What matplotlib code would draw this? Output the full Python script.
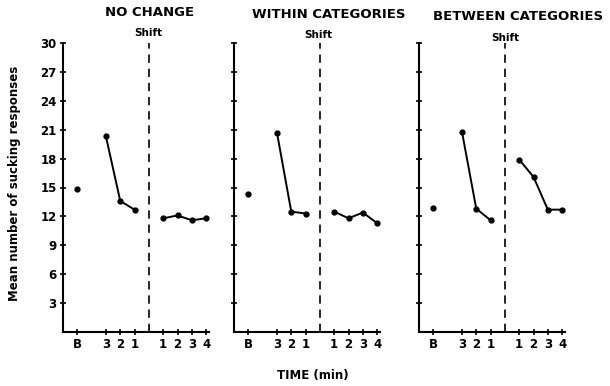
import matplotlib
matplotlib.use("Agg")
import matplotlib.pyplot as plt

# x positions: baseline, pre-shift minutes 3-2-1, post-shift minutes 1-4
x_pos = [0, 2, 3, 4, 6, 7, 8, 9]
x_labels = ["B", "3", "2", "1", "1", "2", "3", "4"]
shift_x = 5

titles = ["NO CHANGE", "WITHIN CATEGORIES", "BETWEEN CATEGORIES"]

baseline = [14.8, 14.3, 12.9]
pre_shift = [
    [20.3, 13.6, 12.7],
    [20.7, 12.5, 12.3],
    [20.8, 12.8, 11.6],
]
post_shift = [
    [11.8, 12.1, 11.6, 11.8],
    [12.5, 11.8, 12.4, 11.3],
    [17.9, 16.1, 12.7, 12.7],
]

W, H = 610, 386
fig = plt.figure(figsize=(W / 100, H / 100), dpi=100)
plt.rcParams["font.family"] = ["DejaVu Sans"]

lefts = [63, 234, 419]
bottom, top = 332, 43
width = 146

for i in range(3):
    ax = fig.add_axes([lefts[i] / W, 1 - bottom / H, width / W, (bottom - top) / H])
    ax.plot(x_pos[0], baseline[i], "o", color="black", ms=3.5)
    ax.plot(x_pos[1:4], pre_shift[i], "-o", color="black", ms=3.5, lw=1.4)
    ax.plot(x_pos[4:], post_shift[i], "-o", color="black", ms=3.5, lw=1.4)
    ax.plot([shift_x, shift_x], [0, 30], color="black", lw=1.2, dashes=(5, 3.5))

    ax.set_xlim(-1, 9.2)
    ax.set_ylim(0, 30)
    ax.set_xticks(x_pos)
    ax.set_xticklabels(x_labels, fontsize=8.5, fontweight="bold")
    ax.set_yticks(range(3, 31, 3))
    if i == 0:
        ax.set_yticklabels([str(v) for v in range(3, 31, 3)], fontsize=8.5, fontweight="bold")
    else:
        ax.set_yticklabels([])
    ax.tick_params(direction="inout", length=5, width=1.2, pad=2)
    for s in ["top", "right"]:
        ax.spines[s].set_visible(False)
    for s in ["left", "bottom"]:
        ax.spines[s].set_linewidth(1.5)
    ax.patch.set_alpha(0)

# titles and shift labels
title_x = [150, 329, 518]
title_y = [12, 14, 16]
for t, tx, ty in zip(titles, title_x, title_y):
    fig.text(tx / W, 1 - ty / H, t, ha="center", va="center", fontsize=9.5, fontweight="bold")

shift_px = [148, 318, 505]
shift_py = [33, 35, 38]
for sx, sy in zip(shift_px, shift_py):
    fig.text(sx / W, 1 - sy / H, "Shift", ha="center", va="center", fontsize=7.5, fontweight="bold")

fig.text(15 / W, 1 - 183 / H, "Mean number of sucking responses", rotation=90,
         ha="center", va="center", fontsize=8.5, fontweight="bold")
fig.text(313 / W, 1 - 375 / H, "TIME (min)", ha="center", va="center", fontsize=8.5, fontweight="bold")

fig.savefig("out.png", dpi=100)
